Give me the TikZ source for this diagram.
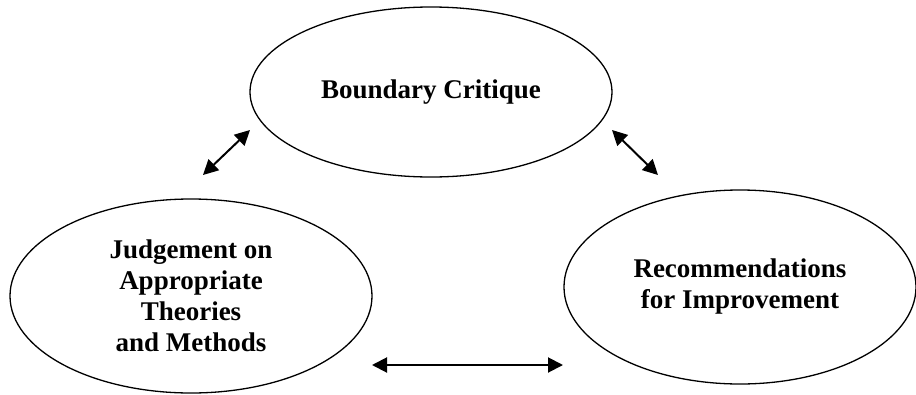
\documentclass[tikz,border=0pt]{standalone}
\usepackage{fontspec}
\setmainfont{Liberation Serif}
\usetikzlibrary{shapes.geometric,arrows.meta}
\begin{document}
\begin{tikzpicture}[x=1pt,y=-1pt,
  bubble/.style={ellipse,draw,line width=1.3pt,inner sep=0pt,align=center,
    font=\fontsize{27}{31}\selectfont\bfseries},
  link/.style={line width=2pt,{Triangle[length=15pt,width=15pt]}-{Triangle[length=15pt,width=15pt]}}]
\useasboundingbox (0,0) rectangle (916,394);
\node[bubble,minimum width=362pt,minimum height=170pt] (bc) at (431,92) {\raisebox{4pt}{Boundary Critique}};
\node[bubble,minimum width=362pt,minimum height=194pt] (jd) at (191,296) {Judgement on\\Appropriate\\Theories\\and Methods};
\node[bubble,minimum width=352pt,minimum height=194pt] (rc) at (740,287) {Recommendations\\for Improvement};
\coordinate (a1) at (203,175);
\coordinate (a2) at (250,130);
\coordinate (b1) at (612,130);
\coordinate (b2) at (658,175);
\coordinate (c1) at (372,365);
\coordinate (c2) at (563,365);
\draw[link] (a1) -- (a2);
\draw[link] (b1) -- (b2);
\draw[link] (c1) -- (c2);
\end{tikzpicture}
\end{document}
